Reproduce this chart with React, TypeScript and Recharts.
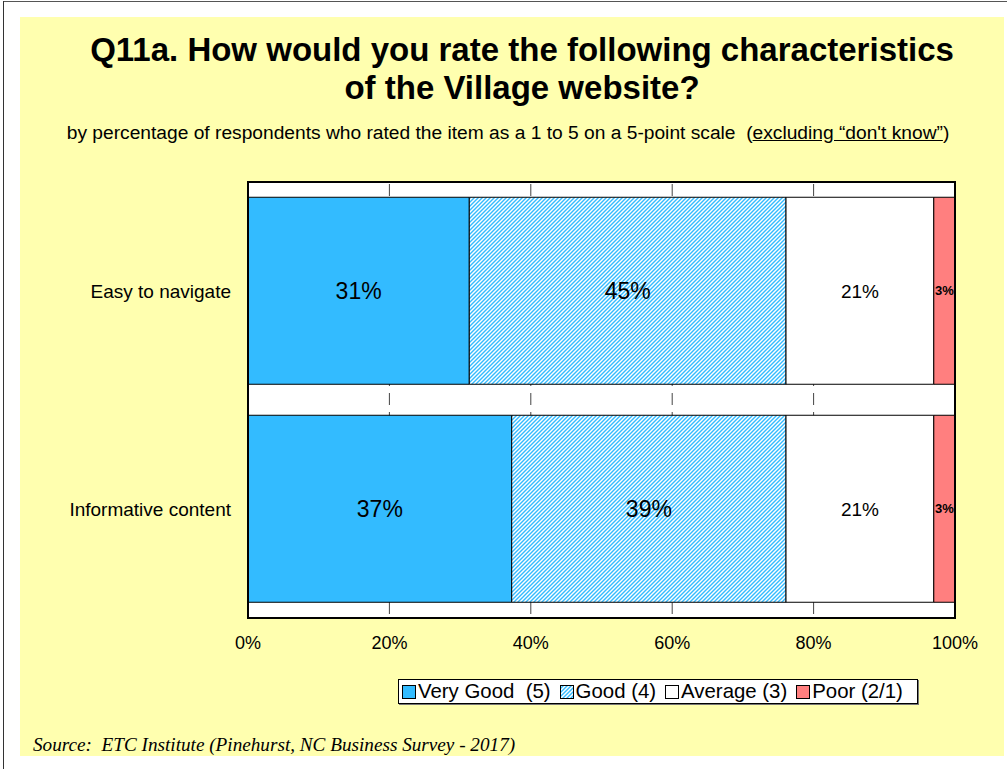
import React from 'react';
import { BarChart, Bar, XAxis, YAxis, CartesianGrid, LabelList } from 'recharts';

const categories = ['Easy to navigate', 'Informative content'];
const veryGood = [31.3, 37.3];
const good = [44.8, 38.8];
const average = [20.9, 20.9];
const poor = [3.0, 3.0];
const xTicks = [0, 20, 40, 60, 80, 100];

const seriesNames = ['Very Good  (5)', 'Good (4)', 'Average (3)', 'Poor (2/1)'];
const seriesKeys = ['vg', 'good', 'avg', 'poor'];
const seriesFills = ['#33BBFF', 'url(#hatchGood)', '#FFFFFF', '#FF7F7F'];

const data = categories.map((c, i) => ({
  cat: c,
  vg: veryGood[i],
  good: good[i],
  avg: average[i],
  poor: poor[i],
}));

const FONT = '"Liberation Sans", Arial, sans-serif';
const pct = (v: any) => `${Math.round(Number(v))}%`;

const labelStyles: Record<string, any> = {
  vg: { fontSize: 23, fontWeight: 'normal' },
  good: { fontSize: 23, fontWeight: 'normal' },
  avg: { fontSize: 19, fontWeight: 'normal' },
  poor: { fontSize: 13, fontWeight: 'bold' },
};

const Swatch = ({ idx }: { idx: number }) => (
  <svg width={14} height={14} style={{ display: 'inline-block', verticalAlign: '-1px', marginRight: 2 }}>
    <defs>
      <pattern id={`lgHatch${idx}`} patternUnits="userSpaceOnUse" width={4} height={4}>
        <rect width={4} height={4} fill="#fff" />
        <path d="M-1,1 l2,-2 M0,4 l4,-4 M3,5 l2,-2" stroke="#33BBFF" strokeWidth={1.4} />
      </pattern>
    </defs>
    <rect
      x={0.5}
      y={0.5}
      width={13}
      height={13}
      fill={seriesFills[idx].startsWith('url') ? `url(#lgHatch${idx})` : seriesFills[idx]}
      stroke="#000"
      strokeWidth={1}
    />
  </svg>
);

export default function App() {
  return (
    <div style={{ position: 'absolute', left: 0, top: 0, width: 1007, height: 769, background: '#fff', overflow: 'hidden', fontFamily: FONT }}>
      {/* outer page lines */}
      <div style={{ position: 'absolute', left: 3, top: 1, width: 1004, height: 1, background: '#555' }} />
      <div style={{ position: 'absolute', left: 3, top: 1, width: 1, height: 768, background: '#333' }} />
      {/* yellow panel */}
      <div style={{ position: 'absolute', left: 20, top: 17, width: 984, height: 739, background: '#FFFFAF' }} />

      <div style={{ position: 'absolute', left: 22, top: 31, width: 1000, textAlign: 'center', fontSize: 33, fontWeight: 'bold', lineHeight: '38px', color: '#000' }}>
        Q11a. How would you rate the following characteristics
        <br />
        of the Village website?
      </div>
      <div style={{ position: 'absolute', left: 8, top: 122, width: 1000, textAlign: 'center', fontSize: 19.2, lineHeight: '22px', color: '#000', whiteSpace: 'pre' }}>
        {'by percentage of respondents who rated the item as a 1 to 5 on a 5-point scale  ('}
        <span style={{ textDecoration: 'underline' }}>{'excluding \u201cdon\'t know\u201d'}</span>
        {')'}
      </div>

      <div style={{ position: 'absolute', left: 0, top: 0 }}>
        <BarChart
          width={1007}
          height={769}
          data={data}
          layout="vertical"
          margin={{ top: 182, right: 52, bottom: 121, left: 8 }}
          barCategoryGap="7%"
        >
          <defs>
            <pattern id="hatchGood" patternUnits="userSpaceOnUse" width={4} height={4}>
              <rect width={4} height={4} fill="#fff" />
              <path d="M-1,1 l2,-2 M0,4 l4,-4 M3,5 l2,-2" stroke="#33BBFF" strokeWidth={1.4} />
            </pattern>
          </defs>
          <CartesianGrid
            horizontal={false}
            vertical={true}
            fill="#ffffff"
            stroke="#444"
            strokeDasharray="12 7"
            strokeDashoffset={17}
          />
          <XAxis
            type="number"
            domain={[0, 100]}
            ticks={xTicks}
            tickFormatter={(v) => `${v}%`}
            axisLine={false}
            tickLine={false}
            tickSize={0}
            tickMargin={18}
            height={30}
            tick={{ fontSize: 18, fill: '#000', fontFamily: FONT }}
            interval={0}
          />
          <YAxis
            type="category"
            dataKey="cat"
            width={240}
            axisLine={false}
            tickLine={false}
            tickSize={0}
            tickMargin={17}
            tick={{ fontSize: 19, fill: '#000', fontFamily: FONT }}
          />
          {seriesKeys.map((k, i) => (
            <Bar
              key={k}
              dataKey={k}
              name={seriesNames[i]}
              stackId="a"
              fill={seriesFills[i]}
              stroke="#000"
              strokeWidth={1}
              isAnimationActive={false}
            >
              <LabelList
                dataKey={k}
                position="center"
                formatter={pct}
                fill="#000"
                style={{ fontFamily: FONT, ...labelStyles[k] }}
                fontSize={labelStyles[k].fontSize}
                fontWeight={labelStyles[k].fontWeight}
              />
            </Bar>
          ))}
        </BarChart>
      </div>

      {/* plot frame */}
      <div style={{ position: 'absolute', left: 247, top: 181, width: 709, height: 438, border: '2px solid #000', boxSizing: 'border-box', pointerEvents: 'none' }} />

      {/* legend */}
      <div style={{ position: 'absolute', left: 398, top: 679, width: 520, height: 25, boxSizing: 'border-box', border: '1px solid #000', background: '#fff', boxShadow: '1px 1px 0 #777', fontSize: 20.4, lineHeight: '23px', whiteSpace: 'pre', paddingLeft: 3, color: '#000' }}>
        {seriesNames.map((n, i) => (
          <span key={n} style={{ marginRight: i < seriesNames.length - 1 ? 9 : 0 }}>
            <Swatch idx={i} />
            {n}
          </span>
        ))}
      </div>

      <div style={{ position: 'absolute', left: 33, top: 734, fontFamily: '"Liberation Serif", "Times New Roman", serif', fontStyle: 'italic', fontSize: 19.2, lineHeight: '22px', color: '#000', whiteSpace: 'pre' }}>
        {'Source:  ETC Institute (Pinehurst, NC Business Survey - 2017)'}
      </div>
    </div>
  );
}
